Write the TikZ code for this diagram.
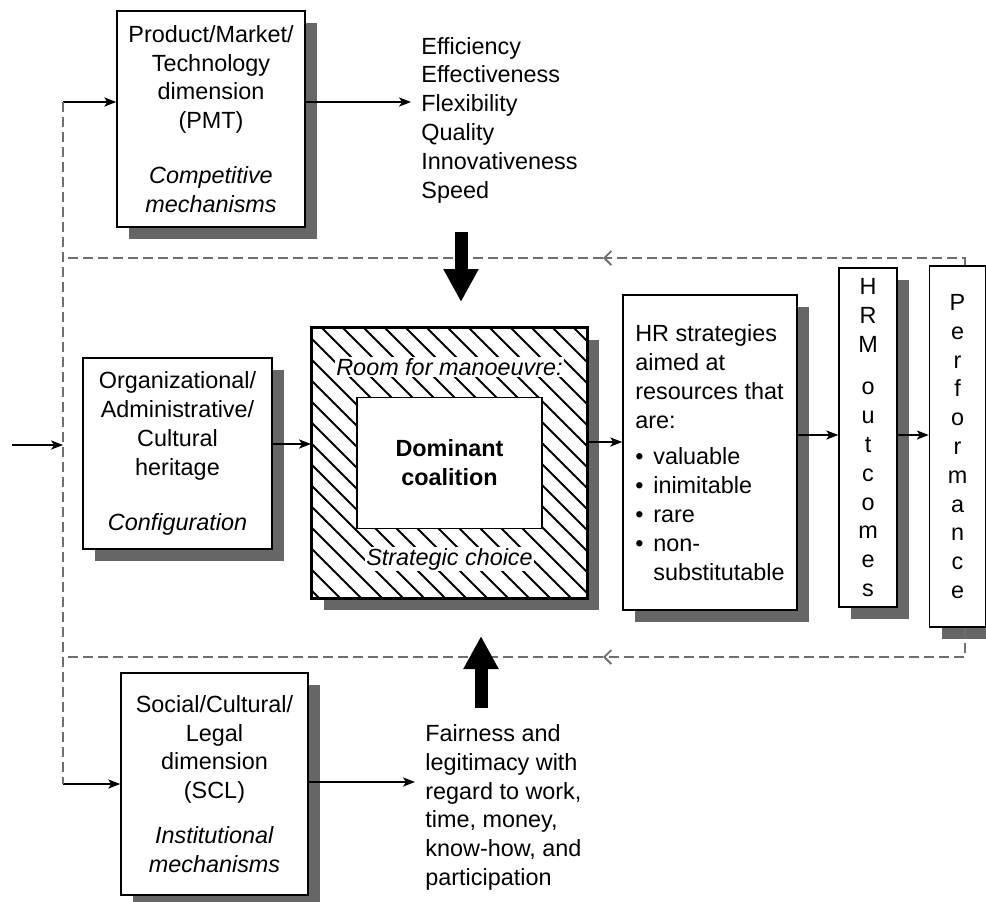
\documentclass[tikz,border=0pt]{standalone}
\usepackage{fontspec}
\setmainfont{Liberation Sans}
\usepackage{tikz}
\usetikzlibrary{arrows.meta, positioning, calc, shadows}
\definecolor{hrShadow}{HTML}{666666}
\definecolor{hrDash}{HTML}{6E6E6E}
\newcommand{\hrfont}{\fontsize{11.7pt}{14.4pt}\selectfont}
\newcommand{\hritem}{\makebox[9pt][l]{\textbullet}}
\tikzset{
  hrplain/.style={draw, line width=0.75pt, fill=white, align=center, inner sep=0pt, font=\hrfont},
  hrbox/.style={hrplain, drop shadow={shadow xshift=6pt, shadow yshift=-6pt, fill=hrShadow, opacity=1}},
  hrtext/.style={align=left, inner sep=5pt, font=\hrfont},
  hrlabel/.style={fill=white, inner sep=0.6pt, font=\hrfont\itshape},
  hrflow/.style={line width=0.65pt, -{Stealth[length=6pt, width=4.6pt, inset=1.5pt]}},
  hrfb/.style={draw=hrDash, line width=0.9pt, dash pattern=on 5pt off 2.5pt},
  hrfbtip/.style={hrfb, -{Straight Barb[length=3.5pt, width=7pt]}},
  hrpush/.style={line width=6.5pt, -{Triangle[length=16.5pt, width=16.5pt]}},
  hrhatch/.style={line width=0.9pt},
}

\begin{document}
\begin{tikzpicture}[x=0.5pt, y=-0.5pt]
\useasboundingbox (0,0) rectangle (986,901);

% the three dimensions
\node[hrbox, minimum width=94pt, minimum height=108pt] (pmt) at (211,119) {Product/Market/\\Technology\\dimension\\(PMT)\\[13pt]\textit{Competitive}\\\textit{mechanisms}};
\node[hrbox, minimum width=94.5pt, minimum height=95.5pt] (org) at (177.5,453.5) {Organizational/\\Administrative/\\Cultural\\heritage\\[13pt]\textit{Configuration}};
\node[hrbox, minimum width=93.5pt, minimum height=111pt] (scl) at (214.5,784) {Social/Cultural/\\Legal\\dimension\\(SCL)\\[8pt]\textit{Institutional}\\\textit{mechanisms}};
\node[hrtext, anchor=west] (goals) at (411,120) {Efficiency\\Effectiveness\\Flexibility\\Quality\\Innovativeness\\Speed};
\node[hrtext, anchor=west] (fair) at (415,807.5) {Fairness and\\legitimacy with\\regard to work,\\time, money,\\know-how, and\\participation};

% dominant coalition with hatched frame
\node[hrbox, line width=1pt, minimum width=137.5pt, minimum height=135pt] (dom) at (449.5,463) {};
\begin{scope}
  \clip (dom.south west) rectangle (dom.north east);
  \foreach \c in {-300,-279,...,280}
    \draw[hrhatch] ({\c+300},300) -- ({\c+620},620);
\end{scope}
\draw[line width=1pt] (dom.south west) rectangle (dom.north east);
\node[hrplain, minimum width=92.5pt, minimum height=65.5pt, font=\hrfont\bfseries] (core) at (dom.center) {Dominant\\coalition};
\node[hrlabel] (room) at ([yshift=-20pt]dom.north) {Room for manoeuvre:};
\node[hrlabel] (choice) at ([yshift=20pt]dom.south) {Strategic choice};

% right hand chain
\node[hrbox, align=left, minimum width=87pt, minimum height=157.5pt] (hr) at (710,452.5) {HR strategies\\aimed at\\resources that\\are:\\[4pt]\hritem valuable\\\hritem inimitable\\\hritem rare\\\hritem non-\\\hspace*{9pt}substitutable};
\node[hrbox, minimum width=29pt, minimum height=169.5pt] (hrm) at (868,437.5) {H\\R\\M\\[7pt]o\\u\\t\\c\\o\\m\\e\\s};
\node[hrbox, minimum width=28pt, minimum height=180.5pt] (perf) at (957.5,446.5) {P\\e\\r\\f\\o\\r\\m\\a\\n\\c\\e};

\coordinate (bus) at (63,0);
\coordinate (envin) at (12,445);
\coordinate (fbtop) at (603,258);
\coordinate (fbbot) at (603,657);
\coordinate (pmtpush) at (461,232);
\coordinate (sclpush) at (481,708);

% solid flows
\draw[hrflow] ([yshift=8.5pt]pmt.west -| bus) -- ([yshift=8.5pt]pmt.west);
\draw[hrflow] ([yshift=8.5pt]pmt.east) -- ([yshift=8.5pt]pmt.east -| goals.west);
\draw[hrflow] (scl.west -| bus) -- (scl.west);
\draw[hrflow] ([yshift=1pt]scl.east) -- ([yshift=1pt]scl.east -| fair.west);
\draw[hrflow] (envin) -- (envin -| bus);
\draw[hrflow] ([yshift=4.75pt]org.east) -- ([yshift=4.75pt]org.east -| dom.west);
\draw[hrflow] ([yshift=10.5pt]dom.east) -- ([yshift=10.5pt]dom.east -| hr.west);
\draw[hrflow] ([yshift=8.75pt]hr.east) -- ([yshift=8.75pt]hr.east -| hrm.west);
\draw[hrflow] ([yshift=8.75pt]hr.east -| hrm.east) -- ([yshift=8.75pt]hr.east -| perf.west);

% feedback loops
\draw[hrfb] ([yshift=8.5pt]pmt.west -| bus) -- (scl.west -| bus);
\draw[hrfbtip] ([xshift=3.75pt]perf.north) |- (fbtop);
\draw[hrfb] (fbtop) -- (fbtop -| bus);
\draw[hrfbtip] ([xshift=3.75pt]perf.south) |- (fbbot);
\draw[hrfb] (fbbot) -- (fbbot -| bus);

% pressure arrows
\draw[hrpush] (pmtpush) -- ([yshift=12.5pt]dom.north -| pmtpush);
\draw[hrpush] (sclpush) -- ([yshift=-18.5pt]dom.south -| sclpush);
\end{tikzpicture}
\end{document}
